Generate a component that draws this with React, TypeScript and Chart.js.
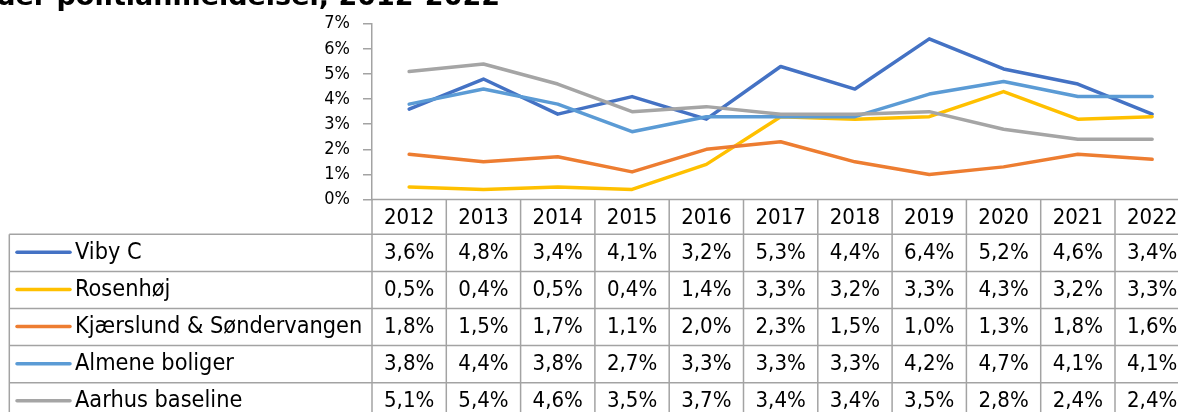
import React, { useEffect, useRef } from "react";
import { Chart, registerables } from "chart.js";
Chart.register(...registerables);

const titleText = "der politianmeldelser, 2012-2022";
const years = ["2012", "2013", "2014", "2015", "2016", "2017", "2018", "2019", "2020", "2021", "2022"];
const seriesNames = ["Viby C", "Rosenhøj", "Kjærslund & Søndervangen", "Almene boliger", "Aarhus baseline"];
const vibyC = [3.6, 4.8, 3.4, 4.1, 3.2, 5.3, 4.4, 6.4, 5.2, 4.6, 3.4];
const rosenhoj = [0.5, 0.4, 0.5, 0.4, 1.4, 3.3, 3.2, 3.3, 4.3, 3.2, 3.3];
const kjaerslund = [1.8, 1.5, 1.7, 1.1, 2.0, 2.3, 1.5, 1.0, 1.3, 1.8, 1.6];
const almene = [3.8, 4.4, 3.8, 2.7, 3.3, 3.3, 3.3, 4.2, 4.7, 4.1, 4.1];
const aarhus = [5.1, 5.4, 4.6, 3.5, 3.7, 3.4, 3.4, 3.5, 2.8, 2.4, 2.4];
const seriesValues = [vibyC, rosenhoj, kjaerslund, almene, aarhus];
const seriesColors = ["#4472C4", "#FFC000", "#ED7D31", "#5B9BD5", "#A5A5A5"];
const yMin = 0;
const yMax = 7;
const yStep = 1;

const FONT = "'DejaVu Sans Condensed', 'Liberation Sans Narrow', 'DejaVu Sans', sans-serif";
const TITLE_FONT = "'DejaVu Sans', sans-serif";
const GRID = "#a3a3a3";
const CANVAS_W = 1200;
const CANVAS_H = 430;

const fmt = (v: number) => v.toFixed(1).replace(".", ",") + "%";

const tablePlugin = {
  id: "dataTable",
  afterDraw(chart: any) {
    const ctx: CanvasRenderingContext2D = chart.ctx;
    const xs = chart.scales.x;
    const area = chart.chartArea;
    const n = years.length;
    const colW = (area.right - area.left) / n;
    const top = area.bottom;
    const headerBottom = top + 34.8;
    const rowH = 37.1;
    const tableLeft = 9.3;
    const W = chart.width;
    const H = chart.height;
    const line = (x1: number, y1: number, x2: number, y2: number) => {
      ctx.beginPath();
      ctx.moveTo(x1, y1);
      ctx.lineTo(x2, y2);
      ctx.stroke();
    };
    ctx.save();
    // title (cropped at the top, as in the reference)
    ctx.fillStyle = "#000";
    ctx.font = `bold 27px ${TITLE_FONT}`;
    ctx.textAlign = "right";
    ctx.textBaseline = "alphabetic";
    ctx.fillText(titleText, 500, 5);

    ctx.strokeStyle = GRID;
    ctx.lineWidth = 1.5;
    line(area.left, top, W, top);
    for (let k = 0; k <= n; k++) {
      const x = area.left + k * colW;
      line(x, top, x, H);
    }
    for (let i = 0; i <= seriesNames.length; i++) {
      const y = headerBottom + i * rowH;
      line(tableLeft, y, W, y);
    }
    line(tableLeft, headerBottom, tableLeft, H);

    ctx.fillStyle = "#000";
    ctx.textAlign = "center";
    ctx.textBaseline = "middle";
    ctx.font = `22px ${FONT}`;
    years.forEach((yr, i) => {
      ctx.fillText(yr, xs.getPixelForValue(i), (top + headerBottom) / 2 + 1);
    });

    seriesNames.forEach((name, r) => {
      const cy = headerBottom + r * rowH + rowH / 2;
      ctx.strokeStyle = seriesColors[r];
      ctx.lineWidth = 3.5;
      ctx.lineCap = "round";
      line(17, cy - 0.5, 70, cy - 0.5);
      ctx.fillStyle = "#000";
      ctx.textAlign = "left";
      ctx.font = `23.3px ${FONT}`;
      ctx.fillText(name, 75, cy);
      ctx.textAlign = "center";
      ctx.font = `22px ${FONT}`;
      seriesValues[r].forEach((v, i) => {
        ctx.fillText(fmt(v), xs.getPixelForValue(i), cy + 0.5);
      });
    });
    ctx.restore();
  },
};

export default function App() {
  const ref = useRef<HTMLCanvasElement>(null);
  useEffect(() => {
    if (!ref.current) return;
    const chart = new Chart(ref.current, {
      type: "line",
      data: {
        labels: years,
        datasets: seriesNames.map((name, i) => ({
          label: name,
          data: seriesValues[i],
          borderColor: seriesColors[i],
          backgroundColor: seriesColors[i],
          borderWidth: 3.5,
          pointRadius: 0,
          pointHoverRadius: 0,
          tension: 0,
          borderJoinStyle: "round" as const,
          borderCapStyle: "round" as const,
          fill: false,
          order: seriesNames.length - 1 - i,
        })),
      },
      options: {
        animation: false,
        responsive: false,
        devicePixelRatio: 1,
        layout: { padding: { left: 0, top: 21, right: CANVAS_W - 1189.3, bottom: 0 } },
        plugins: { legend: { display: false }, tooltip: { enabled: false }, title: { display: false } },
        scales: {
          x: {
            type: "category",
            offset: true,
            ticks: { display: false },
            grid: { display: false },
            border: { display: false },
            afterFit: (s: any) => {
              s.height = CANVAS_H - 199.5;
            },
          },
          y: {
            min: yMin,
            max: yMax,
            ticks: {
              stepSize: yStep,
              callback: (v: any) => `${v}%`,
              font: { family: FONT, size: 18 },
              color: "#000",
              padding: 13,
            },
            grid: {
              display: true,
              drawOnChartArea: false,
              drawTicks: true,
              tickLength: 9,
              color: GRID,
              lineWidth: 1.5,
            },
            border: { display: true, color: GRID, width: 1.5 },
            afterFit: (s: any) => {
              s.width = 372;
            },
          },
        },
      },
      plugins: [tablePlugin],
    });
    return () => chart.destroy();
  }, []);
  return (
    <div
      style={{
        position: "fixed",
        left: 0,
        top: 0,
        width: 1178,
        height: 412,
        overflow: "hidden",
        background: "#fff",
      }}
    >
      <canvas ref={ref} width={CANVAS_W} height={CANVAS_H} style={{ width: CANVAS_W, height: CANVAS_H, display: "block" }} />
    </div>
  );
}
